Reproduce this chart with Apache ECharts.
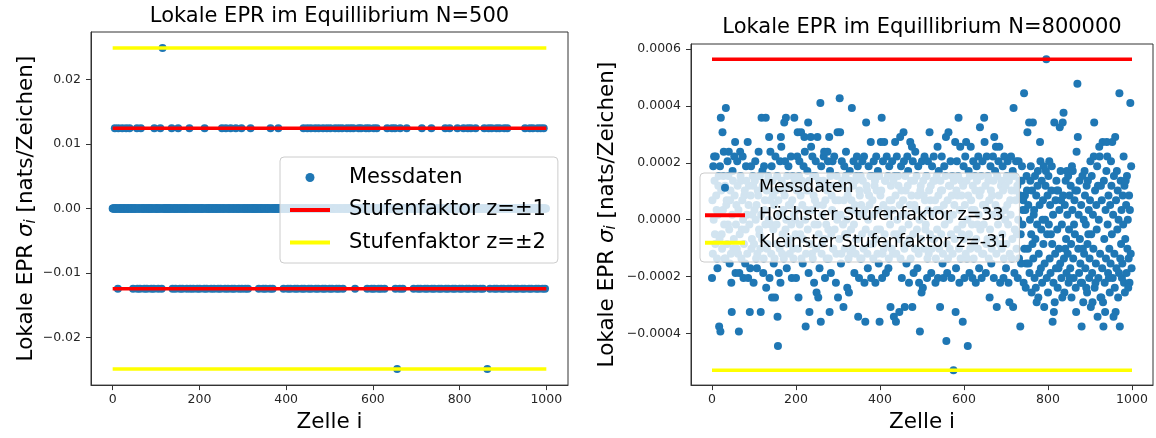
<!DOCTYPE html>
<html>
<head>
<meta charset="utf-8">
<script src="https://cdn.jsdelivr.net/npm/echarts@6/dist/echarts.min.js"></script>
<style>
  html, body { margin: 0; padding: 0; background: #fff; }
  #chart { width: 1156px; height: 438px; }
</style>
</head>
<body>
<div id="chart"></div>
<script>
// Zellen 0..999, Werte als Stufenfaktor z (EPR = z * Einheit)
const cellCount = 1000;
const lineSpan = [0, 1000];

// linkes Bild, N=500
const leftUnit = 0.01245;
const leftPlusOne = [5, 13, 22, 31, 39, 47, 56, 65, 96, 110, 136, 151, 177, 212,
  252, 261, 272, 284, 297, 306, 318, 364, 382, 440, 449, 457, 467, 475, 485, 494,
  502, 513, 521, 529, 540, 548, 555, 567, 573, 584, 591, 602, 609, 633, 644, 651,
  663, 669, 678, 713, 735, 767, 777, 784, 795, 809, 819, 826, 837, 857, 867, 874,
  885, 892, 903, 910, 934, 944, 951, 962, 969, 980, 987, 994];
const leftMinusOne = [12, 47, 57, 63, 73, 79, 89, 95, 105, 113, 138, 145, 155, 161,
  171, 179, 186, 195, 201, 211, 217, 227, 234, 243, 249, 259, 266, 275, 281, 291,
  298, 306, 312, 337, 347, 353, 363, 369, 394, 404, 410, 420, 426, 436, 442, 452,
  458, 468, 474, 484, 490, 500, 506, 516, 522, 531, 559, 587, 597, 603, 613, 619,
  627, 652, 662, 669, 694, 704, 710, 720, 726, 736, 742, 752, 758, 768, 774, 784,
  790, 800, 806, 816, 822, 832, 838, 848, 854, 864, 870, 880, 886, 896, 902, 912,
  918, 928, 934, 944, 950, 960, 966, 976, 982, 991, 997];
const leftPlusTwo = [115];
const leftMinusTwo = [656, 864];

// rechtes Bild, N=800000: [Zelle, z]
const rightUnit = 0.00001709;
const rightHigh = 33;
const rightLow = -31;
const rightPoints = [
  [0,-12],[3,11],[5,13],[8,-5],[9,13],[11,2],[13,-10],[15,7],[17,-22],[19,11],[20,-23],[21,21],[23,-3],[25,18],[27,9],[28,14],[30,-8],[33,23],[35,4],[37,12],[38,-1],[40,14],[42,-9],[44,6],[46,-13],[47,-19],[49,10],[51,-6],[53,13],[55,16],[56,-11],[58,3],[60,12],[62,-7],[64,-23],[65,-11],[67,14],[69,8],[71,-2],[73,13],[75,-12],[77,5],[79,-9],[81,11],[83,1],[85,16],[86,-12],[88,7],[90,-19],[91,-10],[93,11],[95,-4],[97,9],[99,-13],
  [1,4],[2,-7],[4,0],[6,8],[7,-3],[10,5],[12,-8],[14,1],[16,9],[18,-4],[22,6],[24,-6],[26,2],[29,-1],[31,7],[32,-8],[34,3],[36,-5],[39,9],[41,-2],[43,4],[45,-7],[48,1],[50,8],[52,-4],[54,5],[57,-1],[59,-6],[61,7],[63,2],[66,-3],[68,9],[70,-8],[72,4],[74,0],[76,-5],[78,6],[80,-2],[82,8],[84,-7],[87,3],[89,-1],[92,5],[94,-6],[96,1],[98,7],
  [101,2],[103,12],[105,-8],[107,-10],[109,6],[111,14],[113,-3],[116,-19],[118,21],[120,10],[122,-11],[124,11],[126,4],[128,21],[129,-14],[131,-6],[133,8],[136,17],[137,-12],[139,14],[140,-1],[142,11],[143,-16],[145,5],[147,-9],[150,-16],[151,13],[153,-5],[155,9],[156,-20],[157,-26],[159,-11],[160,1],[162,12],[163,-13],[164,17],[165,15],[167,-7],[169,6],[172,20],[174,12],[175,-2],[176,21],[178,-10],[180,7],[182,11],[184,-4],[186,3],[188,13],[190,-12],[192,9],[194,-8],[196,21],[198,0],
  [100,-5],[102,8],[104,0],[106,3],[108,-7],[110,5],[112,-2],[114,9],[115,-6],[117,1],[119,-4],[121,7],[123,-8],[125,2],[127,-1],[130,6],[132,-5],[134,9],[135,0],[138,4],[141,-7],[144,8],[146,-2],[148,3],[149,-8],[152,6],[154,-1],[158,4],[161,-6],[166,8],[168,-3],[170,2],[171,-8],[173,5],[177,0],[179,9],[181,-5],[183,3],[185,-7],[187,7],[189,-1],[191,4],[193,-6],[195,1],[197,8],[199,-3],
  [200,-12],[202,6],[203,13],[204,18],[206,-16],[208,12],[210,-3],[212,18],[214,8],[216,-9],[218,11],[220,17],[221,14],[223,-22],[225,2],[227,10],[229,20],[230,-11],[232,-19],[233,6],[235,17],[236,15],[238,-7],[239,13],[241,9],[243,-13],[245,4],[247,12],[249,-15],[251,17],[252,-1],[253,-16],[255,8],[256,-10],[258,24],[259,-21],[260,11],[262,-5],[264,3],[266,13],[267,14],[269,-12],[271,7],[273,-8],[275,14],[276,12],[277,-2],[279,17],[280,-19],[281,10],[283,-11],[285,5],[287,12],[289,-6],[291,13],[293,1],[295,-13],[297,9],[299,18],[300,-16],
  [201,2],[205,-6],[207,9],[209,-1],[211,5],[213,-8],[215,3],[217,-4],[219,7],[222,0],[224,-7],[226,6],[228,-2],[231,8],[234,-5],[237,2],[240,-8],[242,5],[244,-1],[246,9],[248,-6],[250,3],[254,-3],[257,7],[261,-7],[263,1],[265,8],[268,-4],[270,4],[272,-1],[274,6],[278,-8],[282,9],[284,-3],[286,2],[288,-6],[290,7],[292,-2],[294,4],[296,-7],[298,0],
  [302,4],[304,25],[305,18],[307,-9],[309,12],[311,7],[313,-18],[315,11],[317,-3],[319,14],[322,-14],[324,6],[326,-15],[328,10],[330,-7],[333,23],[335,2],[337,12],[339,-11],[341,8],[343,-4],[345,13],[347,11],[348,-20],[350,-12],[352,5],[354,9],[356,-8],[358,12],[360,1],[362,13],[363,-13],[365,-21],[367,20],[369,6],[371,-10],[373,11],[375,3],[378,16],[379,-12],[381,9],[383,-5],[385,12],[387,7],[389,-13],[391,13],[393,-2],[395,10],[397,-9],[399,-21],
  [301,7],[303,-4],[306,1],[308,-7],[310,8],[312,-1],[314,4],[316,-6],[318,9],[320,0],[321,-3],[323,5],[325,-8],[327,2],[329,8],[331,-2],[332,4],[334,-6],[336,7],[338,-1],[340,3],[342,-7],[344,9],[346,-4],[349,1],[351,6],[353,-8],[355,3],[357,-3],[359,8],[361,-6],[364,2],[366,-2],[368,7],[370,-7],[372,0],[374,5],[376,-5],[377,9],[380,-3],[382,4],[384,-8],[386,1],[388,8],[390,-4],[392,6],[394,-7],[396,2],[398,9],
  [401,5],[402,16],[404,21],[405,-12],[407,12],[409,-6],[410,16],[412,8],[414,-11],[416,13],[418,2],[420,-10],[422,11],[425,-18],[427,4],[429,12],[431,-7],[433,-20],[435,9],[436,16],[438,-21],[440,13],[442,-3],[444,7],[446,-19],[448,17],[450,11],[452,-12],[454,1],[456,18],[457,12],[459,-18],[461,6],[463,-9],[465,13],[467,10],[469,-13],[470,-4],[472,16],[474,8],[476,15],[477,-18],[478,12],[480,-11],[482,3],[484,14],[486,-6],[489,-10],[491,11],[493,-13],[495,-23],[497,7],[499,-15],[500,12],
  [400,-2],[403,6],[406,-7],[408,3],[411,-3],[413,8],[415,-5],[417,1],[419,9],[421,-8],[423,4],[424,-1],[426,7],[428,-6],[430,2],[432,8],[434,-3],[437,5],[439,-7],[441,0],[443,9],[445,-4],[447,3],[449,-8],[451,6],[453,-2],[455,4],[458,-6],[460,9],[462,1],[464,-5],[466,7],[468,-1],[471,3],[473,-8],[475,5],[479,-3],[481,8],[483,-6],[485,2],[487,9],[488,-2],[490,5],[492,-7],[494,0],[496,6],[498,-4],
  [502,-14],[504,5],[506,13],[508,-2],[510,9],[512,-12],[514,12],[516,-7],[518,18],[520,4],[522,-11],[524,11],[526,-4],[528,13],[530,8],[532,-13],[534,2],[537,15],[538,-12],[540,10],[543,-18],[545,6],[547,13],[549,-9],[551,-12],[553,11],[555,1],[557,17],[558,-25],[560,-11],[563,18],[564,7],[566,-6],[568,12],[570,-12],[572,9],[575,-31],[577,3],[579,16],[580,-19],[581,-10],[583,12],[585,5],[587,21],[589,-13],[591,15],[593,8],[595,-3],[597,-21],[599,11],
  [501,1],[503,8],[505,-6],[507,4],[509,-1],[511,9],[513,-8],[515,2],[517,6],[519,-3],[521,7],[523,-6],[525,1],[527,8],[529,-4],[531,4],[533,-8],[535,9],[536,-2],[539,5],[541,-6],[542,2],[544,8],[546,-3],[548,6],[550,-7],[552,3],[554,-1],[556,9],[559,-5],[561,4],[562,-8],[565,0],[567,7],[569,-3],[571,5],[573,-7],[574,1],[576,8],[578,-4],[582,6],[584,-2],[586,9],[588,-6],[590,2],[592,-8],[594,5],[596,-1],[598,7],
  [601,-12],[603,13],[605,16],[607,-8],[609,-26],[611,10],[613,-11],[616,15],[618,2],[620,-12],[622,12],[624,-5],[626,9],[628,-13],[630,11],[632,-1],[634,13],[636,-10],[638,19],[640,6],[642,-12],[644,12],[646,-7],[648,21],[649,16],[650,3],[652,-11],[654,13],[656,-4],[658,8],[661,-16],[663,11],[665,-9],[667,5],[669,13],[671,-12],[672,17],[674,10],[676,15],[678,-18],[680,2],[682,12],[684,15],[686,-13],[688,7],[690,-6],[692,11],[694,-12],[696,13],[698,0],
  [600,-4],[602,3],[604,-7],[606,8],[608,0],[610,5],[612,-3],[614,9],[615,-6],[617,4],[619,-1],[621,7],[623,-8],[625,2],[627,6],[629,-4],[631,8],[633,-6],[635,1],[637,5],[639,-2],[641,9],[643,-7],[645,3],[647,-1],[651,7],[653,-5],[655,2],[657,9],[659,-8],[660,4],[662,-2],[664,6],[666,-6],[668,1],[670,8],[673,-4],[675,3],[677,-7],[679,9],[681,-1],[683,5],[685,-5],[687,1],[689,8],[691,-3],[693,6],[695,-8],[697,2],[699,7],
  [700,-10],[702,9],[704,12],[706,-13],[708,-17],[710,4],[712,13],[714,-8],[716,10],[717,-18],[718,23],[720,-11],[722,6],[724,12],[726,-3],[728,-12],[730,12],[732,8],[734,-22],[736,-9],[738,11],[740,2],[742,-13],[743,26],[745,5],[747,-14],[749,9],
  [701,-5],[703,3],[705,-1],[707,8],[709,-7],[711,1],[713,6],[715,-4],[719,9],[721,-2],[723,4],[725,-6],[727,7],[729,0],[731,-8],[733,5],[735,-3],[737,8],[739,-1],[741,4],[744,-6],[746,2],[748,-9],[750,6],
  [751,18],[752,-6],[753,3],[755,20],[756,-11],[757,0],[758,8],[760,-3],[761,-15],[762,6],[764,20],[765,-8],[766,1],[768,-12],[769,9],[770,-4],[772,5],[773,-17],[774,-1],[776,10],[777,-16],[778,-7],[780,3],[781,16],[782,12],[783,-10],[784,-2],[785,8],[786,-13],[788,4],[789,-5],[790,11],[792,-9],[793,0],[794,7],[796,33],[797,-12],[798,-3],[799,5],
  [754,-9],[759,11],[763,-5],[767,2],[771,-14],[775,7],[779,-11],[787,0],[791,-18],[795,10],
  [800,-15],[801,9],[802,-1],[804,-8],[805,3],[806,-11],[808,6],[809,11],[810,-5],[811,-21],[812,1],[813,-13],[815,20],[816,-17],[817,-7],[818,4],[819,-10],[820,8],[822,-2],[823,-14],[824,6],[826,-6],[827,2],[828,19],[829,-9],[830,10],[832,-12],[833,-1],[835,20],[836,5],[837,22],[838,-8],[839,-15],[840,3],[842,8],[843,-4],[844,-11],[846,1],[847,-7],[848,9],[849,-13],
  [803,12],[807,-3],[814,-19],[821,6],[825,-10],[831,4],[834,-16],[841,-6],[845,10],
  [850,-2],[851,5],[853,-10],[854,7],[855,-5],[856,-16],[858,2],[859,10],[860,-8],[861,-12],[863,4],[864,-3],[866,-14],[867,-19],[868,14],[869,6],[870,28],[871,17],[872,-6],[873,1],[874,-11],[875,8],[876,-4],[877,-9],[879,3],[880,-22],[881,-13],[882,9],[884,-17],[885,0],[886,-7],[888,5],[889,-10],[890,-1],[892,7],[893,-15],[894,-5],[895,8],[897,2],[898,-12],[899,-8],
  [852,-12],[857,11],[862,-1],[865,6],[878,-13],[883,-6],[887,10],[891,-14],[896,-3],
  [900,4],[901,12],[902,-18],[903,-3],[904,9],[905,-11],[907,1],[908,-6],[909,13],[910,20],[911,-14],[912,6],[914,-9],[915,3],[916,-2],[918,-20],[919,7],[920,-12],[921,0],[922,15],[923,13],[924,-7],[925,-16],[927,-16],[928,4],[929,-10],[930,16],[931,-17],[932,-22],[933,8],[934,-4],[935,-13],[937,2],[938,-8],[939,10],[940,16],[941,13],[942,-1],[943,-11],[944,5],[946,-6],[947,-15],[948,3],[949,-9],
  [906,-17],[913,-13],[917,11],[926,7],[936,-19],[945,-12],[950,12],
  [951,7],[952,-3],[953,16],[954,-12],[955,1],[957,9],[958,-7],[959,-14],[960,17],[961,-19],[962,4],[963,-10],[965,-2],[966,6],[967,-16],[968,0],[970,26],[971,-22],[972,-8],[973,8],[974,-5],[975,2],[976,-12],[977,-9],[978,5],[979,-1],[980,13],[981,-13],[982,7],[983,-15],[984,-4],[986,3],[987,-11],[988,9],[989,-6],[990,0],[992,-8],[993,5],[994,-13],[995,2],[996,24],[997,-7],[998,11],[999,-10],
  [956,-20],[964,10],[969,-11],[985,8],[991,-14]
];

// Tickwerte
const xTicks = [0, 200, 400, 600, 800, 1000];
const leftYTicks = [-0.02, -0.01, 0, 0.01, 0.02];
const rightYTicks = [-0.0004, -0.0002, 0, 0.0002, 0.0004, 0.0006];

const font = 'DejaVu Sans';
const blue = '#1f77b4';
const red = '#ff0000';
const yellow = '#ffff00';
const minus = s => s.replace('-', '\u2212');

// Daten aufbauen
const leftData = [];
for (let i = 0; i < cellCount; i++) {
  let z = 0;
  if (leftPlusOne.includes(i)) z = 1;
  if (leftMinusOne.includes(i)) z = -1;
  if (leftPlusTwo.includes(i)) z = 2;
  if (leftMinusTwo.includes(i)) z = -2;
  leftData.push([i, z * leftUnit]);
}
const rightData = rightPoints.map(p => [p[0], p[1] * rightUnit]);
const hline = (y) => lineSpan.map(x => [x, y]);

const chart = echarts.init(document.getElementById('chart'), null, { renderer: 'canvas' });

const xAxisBase = (gridIndex) => ({
  type: 'value', gridIndex, min: -50, max: 1050,
  name: 'Zelle i', nameLocation: 'middle', nameGap: 23,
  nameTextStyle: { fontSize: 21.5, fontFamily: font, color: '#000' },
  splitLine: { show: false },
  axisLine: { show: true, onZero: false, lineStyle: { color: '#333' } },
  axisTick: { show: true, length: 5, customValues: xTicks, lineStyle: { color: '#333' } },
  axisLabel: { customValues: xTicks, margin: 8, fontSize: 12.5, fontFamily: font, color: '#262626',
    formatter: v => String(v) }
});

const yName = '{n|Lokale EPR }{s|σ}{i|i}{n| [nats/Zeichen]}';
const yRich = {
  n: { fontSize: 21.5, fontFamily: font, color: '#000' },
  s: { fontSize: 21.5, fontFamily: font, fontStyle: 'italic', color: '#000' },
  i: { fontSize: 15, fontFamily: font, fontStyle: 'italic', color: '#000', padding: [9, 0, 0, 0] }
};

const legendBase = {
  orient: 'vertical', icon: 'circle', symbolKeepAspect: true,
  backgroundColor: 'rgba(255,255,255,0.8)', borderColor: '#cccccc', borderWidth: 1, borderRadius: 4,
  z: 10
};

chart.setOption({
  animation: false,
  backgroundColor: '#fff',
  title: [
    { text: 'Lokale EPR im Equillibrium N=500', left: 329.5, top: 6, textAlign: 'center', padding: 0,
      textStyle: { fontSize: 21, fontWeight: 'normal', fontFamily: font, color: '#000' } },
    { text: 'Lokale EPR im Equillibrium N=800000', left: 922, top: 17, textAlign: 'center', padding: 0,
      textStyle: { fontSize: 21, fontWeight: 'normal', fontFamily: font, color: '#000' } }
  ],
  grid: [
    { left: 91, top: 32, width: 477, height: 355, show: true, borderColor: '#333', borderWidth: 1, backgroundColor: 'transparent' },
    { left: 691, top: 44, width: 462, height: 344, show: true, borderColor: '#333', borderWidth: 1, backgroundColor: 'transparent' }
  ],
  xAxis: [xAxisBase(0), xAxisBase(1)],
  yAxis: [
    { type: 'value', gridIndex: 0, min: -0.0274, max: 0.0274,
      name: yName, nameLocation: 'middle', nameGap: 52, nameRotate: 90,
      nameTextStyle: { rich: yRich },
      splitLine: { show: false },
      axisLine: { show: true, onZero: false, lineStyle: { color: '#333' } },
      axisTick: { show: true, length: 5, customValues: leftYTicks, lineStyle: { color: '#333' } },
      axisLabel: { customValues: leftYTicks, margin: 10, fontSize: 12.5, fontFamily: font, color: '#262626',
        formatter: v => minus(v.toFixed(2)) } },
    { type: 'value', gridIndex: 1, min: -0.000582, max: 0.000618,
      name: yName, nameLocation: 'middle', nameGap: 72, nameRotate: 90,
      nameTextStyle: { rich: yRich },
      splitLine: { show: false },
      axisLine: { show: true, onZero: false, lineStyle: { color: '#333' } },
      axisTick: { show: true, length: 5, customValues: rightYTicks, lineStyle: { color: '#333' } },
      axisLabel: { customValues: rightYTicks, margin: 10, fontSize: 12.5, fontFamily: font, color: '#262626',
        formatter: v => minus(v.toFixed(4)) } }
  ],
  legend: [
    Object.assign({}, legendBase, {
      left: 280, top: 157, padding: [9, 12, 9, 10],
      itemWidth: 40, itemHeight: 9, itemGap: 9.5,
      textStyle: { fontSize: 21, lineHeight: 23, fontFamily: font, color: '#000', padding: [0, 0, 0, 14] },
      data: [
        { name: 'Messdaten', icon: 'circle', itemStyle: { color: blue, borderWidth: 0 } },
        { name: 'Stufenfaktor z=±1', icon: 'path://M0,0h40v4h-40z', itemStyle: { color: red, borderWidth: 0 } },
        { name: 'Stufenfaktor z=±2', icon: 'path://M0,0h40v4h-40z', itemStyle: { color: yellow, borderWidth: 0 } }
      ]
    }),
    Object.assign({}, legendBase, {
      left: 700, top: 173, padding: [5, 11, 9.5, 5],
      itemWidth: 40, itemHeight: 8, itemGap: 8,
      textStyle: { fontSize: 17.5, lineHeight: 19.5, fontFamily: font, color: '#000', padding: [0, 0, 0, 9] },
      data: [
        { name: 'Messdaten ', icon: 'circle', itemStyle: { color: blue, borderWidth: 0 } },
        { name: 'Höchster Stufenfaktor z=33', icon: 'path://M0,0h40v4h-40z', itemStyle: { color: red, borderWidth: 0 } },
        { name: 'Kleinster Stufenfaktor z=-31', icon: 'path://M0,0h40v4h-40z', itemStyle: { color: yellow, borderWidth: 0 } }
      ],
      formatter: n => n.trim()
    })
  ],
  series: [
    { type: 'scatter', name: 'Messdaten', xAxisIndex: 0, yAxisIndex: 0, data: leftData,
      symbolSize: 8, color: blue, itemStyle: { opacity: 1 } },
    { type: 'line', name: 'Stufenfaktor z=±1', xAxisIndex: 0, yAxisIndex: 0, data: hline(leftUnit),
      symbol: 'none', color: red, lineStyle: { width: 3.5, color: red } },
    { type: 'line', name: 'Stufenfaktor z=±1', xAxisIndex: 0, yAxisIndex: 0, data: hline(-leftUnit),
      symbol: 'none', color: red, lineStyle: { width: 3.5, color: red } },
    { type: 'line', name: 'Stufenfaktor z=±2', xAxisIndex: 0, yAxisIndex: 0, data: hline(2 * leftUnit),
      symbol: 'none', color: yellow, lineStyle: { width: 3.5, color: yellow } },
    { type: 'line', name: 'Stufenfaktor z=±2', xAxisIndex: 0, yAxisIndex: 0, data: hline(-2 * leftUnit),
      symbol: 'none', color: yellow, lineStyle: { width: 3.5, color: yellow } },

    { type: 'scatter', name: 'Messdaten ', xAxisIndex: 1, yAxisIndex: 1, data: rightData,
      symbolSize: 8, color: blue, itemStyle: { opacity: 1 } },
    { type: 'line', name: 'Höchster Stufenfaktor z=33', xAxisIndex: 1, yAxisIndex: 1, data: hline(rightHigh * rightUnit),
      symbol: 'none', color: red, lineStyle: { width: 3.5, color: red } },
    { type: 'line', name: 'Kleinster Stufenfaktor z=-31', xAxisIndex: 1, yAxisIndex: 1, data: hline(rightLow * rightUnit),
      symbol: 'none', color: yellow, lineStyle: { width: 3.5, color: yellow } }
  ]
});
</script>
</body>
</html>
